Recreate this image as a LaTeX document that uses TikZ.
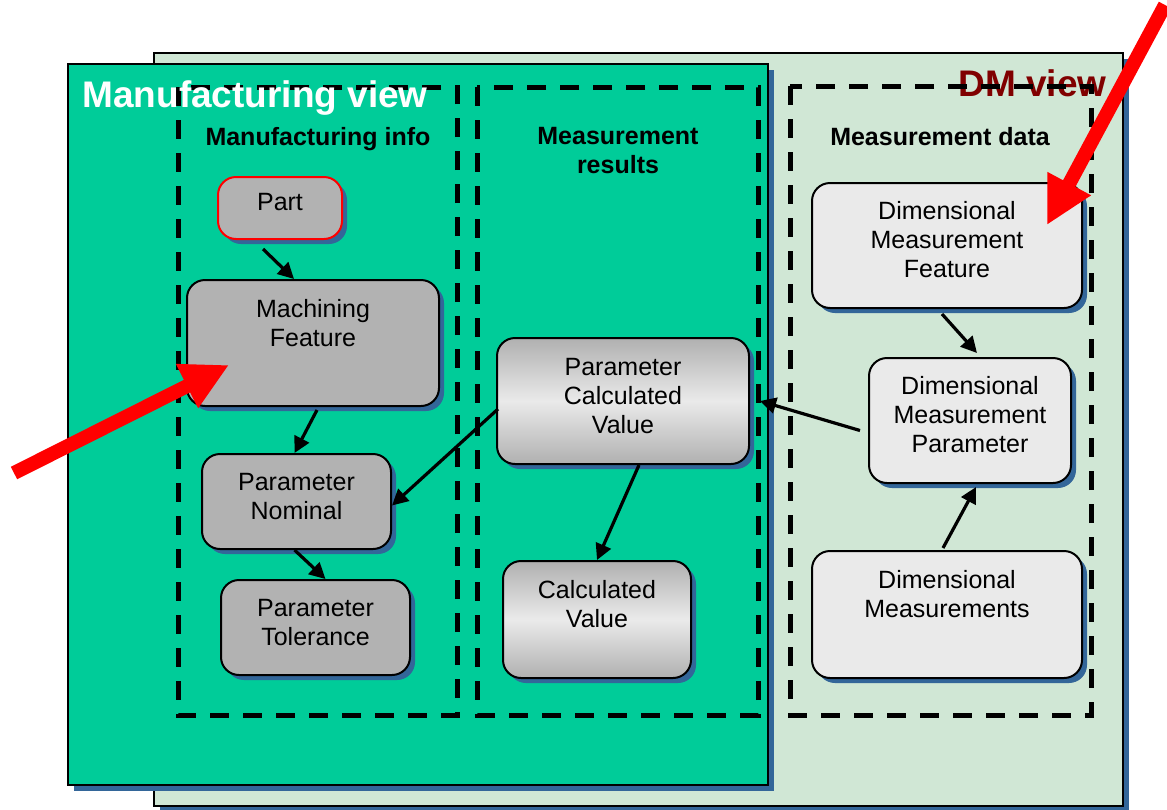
\documentclass[tikz,border=0pt]{standalone}
\usepackage{fontspec}
\setmainfont{Liberation Sans}
\usetikzlibrary{arrows.meta,shadows}

\definecolor{mfggreen}{HTML}{00CC99}
\definecolor{dmgreen}{HTML}{D0E7D5}
\definecolor{shadowblue}{HTML}{336699}
\definecolor{boxgray}{HTML}{B2B2B2}
\definecolor{shadegray}{HTML}{B0B0B0}
\definecolor{boxlight}{HTML}{EAEAEA}
\definecolor{dmred}{HTML}{800000}

\tikzset{
  viewbox/.style={draw=black, line width=1pt,
    drop shadow={shadow xshift=3pt, shadow yshift=-3pt, fill=shadowblue, opacity=1}},
  group/.style={draw=black, line width=2.5pt, dash pattern=on 9.5pt off 7pt},
  viewtitle/.style={font=\bfseries\fontsize{18.5}{20}\selectfont, inner sep=0pt},
  grouptitle/.style={font=\bfseries\fontsize{12.5}{14.5}\selectfont, inner sep=0pt, align=center},
  box/.style={rounded corners=9pt, draw=black, line width=1pt, inner sep=0pt,
    align=center, anchor=north west,
    font=\fontsize{12.5}{14.5}\selectfont,
    drop shadow={shadow xshift=2.5pt, shadow yshift=-2.5pt, fill=shadowblue, opacity=1}},
  mfgbox/.style={box, fill=boxgray},
  calcbox/.style={box, top color=shadegray, bottom color=shadegray, middle color=boxlight},
  dmbox/.style={box, fill=boxlight},
  arr/.style={-{Triangle[length=8pt,width=8pt]}, line width=1.6pt},
  bigarr/.style={-{Triangle[length=23.5pt,width=23pt]}, line width=7pt, red}
}

\begin{document}
\begin{tikzpicture}[x=0.5pt, y=-0.5pt]
  \useasboundingbox (0,0) rectangle (1167,809);

  % DM view
  \filldraw[viewbox, fill=dmgreen] (154,53) rectangle (1123,806);
  \node[viewtitle, text=dmred, anchor=base east] (dmtitle) at (1107,96) {DM view};
  \draw[group] (790,86) rectangle (1091,715);

  % Manufacturing view
  \filldraw[viewbox, fill=mfggreen] (68,64) rectangle (768,785);
  \draw[group] (178,87) rectangle (457,715);
  \draw[group] (477,87) rectangle (758,715);
  \node[viewtitle, text=white, anchor=base west] (mfgtitle) at (82,107) {Manufacturing view};

  % group titles (base = last line)
  \node[grouptitle, anchor=base] (infotitle) at (318,145) {Manufacturing info};
  \node[grouptitle, anchor=base] (resulttitle) at (618,173) {Measurement\\results};
  \node[grouptitle, anchor=base] (datatitle) at (940,145) {Measurement data};

  % boxes: top left corner, width, text height/depth give the height
  \node[mfgbox, draw=red, minimum width=62pt, text height=16.5pt, text depth=14.5pt] (part) at (217,176) {Part};
  \node[mfgbox, minimum width=126pt, text height=33pt, text depth=30pt] (feature) at (186,279) {Machining\\Feature};
  \node[mfgbox, minimum width=94.5pt, text height=32.5pt, text depth=15pt] (nominal) at (201,453) {Parameter\\Nominal};
  \node[mfgbox, minimum width=94.5pt, text height=32.5pt, text depth=15pt] (tolerance) at (220,579) {Parameter\\Tolerance};
  \node[calcbox, minimum width=126pt, text height=47.5pt, text depth=15.5pt] (paramcalc) at (496,337) {Parameter\\Calculated\\Value};
  \node[calcbox, minimum width=94pt, text height=33pt, text depth=25.5pt] (calcvalue) at (502,560) {Calculated\\Value};
  \node[dmbox, minimum width=135pt, text height=47pt, text depth=15.5pt] (dmfeature) at (811,182) {Dimensional\\Measurement\\Feature};
  \node[dmbox, minimum width=101pt, text height=47pt, text depth=15.5pt] (dmparam) at (868,357) {Dimensional\\Measurement\\Parameter};
  \node[dmbox, minimum width=135pt, text height=33pt, text depth=30.5pt] (dmeas) at (811,550) {Dimensional\\Measurements};

  % links
  \draw[arr] ([xshift=-8.5pt,yshift=-4.5pt]part.south) -- ([xshift=-9.5pt]feature.north);
  \draw[arr] ([xshift=2pt,yshift=-1.5pt]feature.south) -- ([xshift=-1pt]nominal.north);
  \draw[arr] ([xshift=-1pt]nominal.south) -- ([xshift=5pt]tolerance.north);
  \draw[arr] ([xshift=1pt,yshift=-4pt]paramcalc.west) -- ([yshift=-2pt]nominal.east);
  \draw[arr] ([xshift=8pt]paramcalc.south) -- (calcvalue.north);
  \draw[arr] ([xshift=-2.5pt,yshift=-2.5pt]dmfeature.south) -- ([xshift=3.5pt,yshift=2pt]dmparam.north);
  \draw[arr] ([xshift=-4pt,yshift=-5pt]dmparam.west) -- ([xshift=5pt]paramcalc.east);
  \draw[arr] ([xshift=-2pt,yshift=1pt]dmeas.north) -- ([xshift=3pt,yshift=-1.5pt]dmparam.south);

  % red pointers
  \coordinate (lefttail) at (14,473);
  \coordinate (lefttip) at (229,365);
  \coordinate (righttail) at (1165,5);
  \coordinate (righttip) at (1047,225);
  \draw[bigarr] (lefttail) -- (lefttip);
  \draw[bigarr] (righttail) -- (righttip);
\end{tikzpicture}
\end{document}
